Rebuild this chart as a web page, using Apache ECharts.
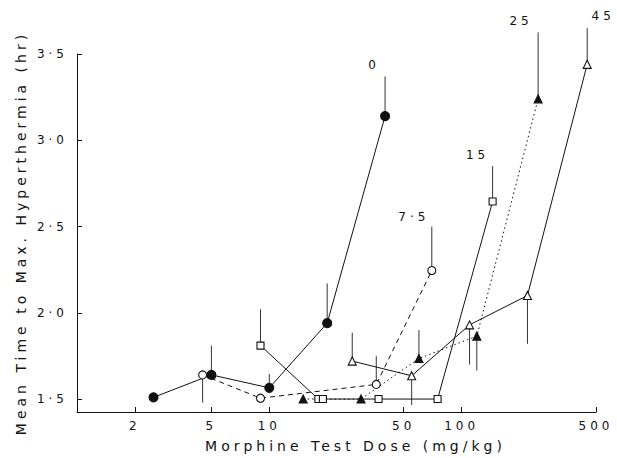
<!DOCTYPE html>
<html><head><meta charset="utf-8">
<script src="https://cdn.jsdelivr.net/npm/echarts@6/dist/echarts.min.js"></script>
<style>
html,body{margin:0;padding:0;background:#fff;}
#c{width:617px;height:458px;}
#c svg text{letter-spacing:4px;}
</style></head>
<body><div id="c"></div>
<script>
// Dose ticks (mg/kg) and value ticks (hr)
const doseTicks = [2, 5, 10, 50, 100, 500];
const valueTicks = [1.5, 2.0, 2.5, 3.0, 3.5];

// Pretreatment groups
const groupNames = ['0', '7·5', '15', '25', '45'];

// Group 0 (filled circles, solid)
const dose0 = [2.5, 5, 10, 20, 40];
const mean0 = [1.51, 1.64, 1.565, 1.94, 3.14];
const err0  = [null, 1.81, 1.645, 2.17, 3.37];

// Group 7.5 (open circles, dashed)
const dose7 = [4.5, 9, 36, 70];
const mean7 = [1.64, 1.505, 1.585, 2.245];
const err7  = [1.48, null, 1.75, 2.50];

// Group 15 (open squares, solid)
const dose15 = [9, 18, 19, 37, 75, 145];
const mean15 = [1.81, 1.50, 1.50, 1.50, 1.50, 2.645];
const err15  = [2.02, null, null, null, null, 2.85];

// Group 25 (filled triangles, dotted)
const dose25 = [15, 30, 60, 120, 250];
const mean25 = [1.50, 1.50, 1.735, 1.865, 3.24];
const err25  = [null, null, 1.90, 1.665, 3.625];

// Group 45 (open triangles, solid)
const dose45 = [27, 55, 110, 220, 450];
const mean45 = [1.72, 1.635, 1.93, 2.10, 3.44];
const err45  = [1.885, 1.465, 1.70, 1.82, 3.65];

const FONT = 'DejaVu Sans';
const INK = '#111';

function lineSeries(name, doses, means, symbol, filled, lineType, size, labelOffset) {
  const data = doses.map((d, i) => {
    const item = { value: [d, means[i]] };
    if (i === doses.length - 1) {
      item.label = { show: true, formatter: name, position: 'inside', offset: labelOffset,
        color: INK, fontFamily: FONT, fontSize: 12 };
    }
    return item;
  });
  return {
    type: 'line', name: name, data: data, symbol: symbol, symbolSize: size,
    showSymbol: true, z: 3,
    lineStyle: { color: INK, width: 1, type: lineType },
    itemStyle: { color: filled ? INK : '#fff', borderColor: INK, borderWidth: 1.1 },
    emphasis: { disabled: true }, animation: false
  };
}

function errSeries(doses, means, errs) {
  const data = [];
  doses.forEach((d, i) => { if (errs[i] != null) data.push([d, means[i], errs[i]]); });
  return {
    type: 'custom', data: data, z: 2, animation: false, silent: true,
    renderItem: function (params, api) {
      const p1 = api.coord([api.value(0), api.value(1)]);
      const p2 = api.coord([api.value(0), api.value(2)]);
      return { type: 'line', shape: { x1: p1[0], y1: p1[1], x2: p2[0], y2: p2[1] },
        style: { stroke: '#333', lineWidth: 1 } };
    }
  };
}

const chart = echarts.init(document.getElementById('c'), null, { renderer: 'svg' });
chart.setOption({
  animation: false,
  backgroundColor: '#fff',
  grid: { left: 77, right: 21, top: 54, bottom: 45 },
  xAxis: {
    type: 'log', logBase: 10, min: 1, max: 500,
    name: 'Morphine Test Dose (mg/kg)', nameLocation: 'middle', nameGap: 27,
    nameTextStyle: { fontFamily: FONT, fontSize: 14, color: INK, padding: [0, 0, 0, 38] },
    axisLine: { show: true, lineStyle: { color: INK, width: 1 } },
    axisTick: { show: true, inside: true, length: 5, customValues: doseTicks, lineStyle: { color: INK } },
    axisLabel: { show: true, customValues: doseTicks, margin: 8, fontFamily: FONT, fontSize: 12, color: INK,
      formatter: v => String(Math.round(v)) },
    splitLine: { show: false }, minorTick: { show: false }
  },
  yAxis: {
    type: 'value', min: 1.425, max: 3.5,
    name: 'Mean Time to Max. Hyperthermia (hr)', nameLocation: 'middle', nameGap: 49,
    nameTextStyle: { fontFamily: FONT, fontSize: 14, color: INK },
    axisLine: { show: true, lineStyle: { color: INK, width: 1 } },
    axisTick: { show: true, inside: true, length: 5, customValues: valueTicks, lineStyle: { color: INK } },
    axisLabel: { show: true, customValues: valueTicks, margin: 9, fontFamily: FONT, fontSize: 12, color: INK,
      formatter: v => v.toFixed(1).replace('.', '·') },
    splitLine: { show: false }
  },
  series: [
    errSeries(dose0, mean0, err0),
    errSeries(dose7, mean7, err7),
    errSeries(dose15, mean15, err15),
    errSeries(dose25, mean25, err25),
    errSeries(dose45, mean45, err45),
    lineSeries(groupNames[0], dose0, mean0, 'circle', true, 'solid', 9, [-11, -51]),
    lineSeries(groupNames[1], dose7, mean7, 'circle', false, [5, 4], 8, [-18, -54]),
    lineSeries(groupNames[2], dose15, mean15, 'rect', false, 'solid', 7, [-15, -47]),
    lineSeries(groupNames[3], dose25, mean25, 'triangle', true, [1.5, 3], 8, [-17, -78]),
    lineSeries(groupNames[4], dose45, mean45, 'triangle', false, 'solid', 8, [16, -48])
  ]
});
</script></body></html>
